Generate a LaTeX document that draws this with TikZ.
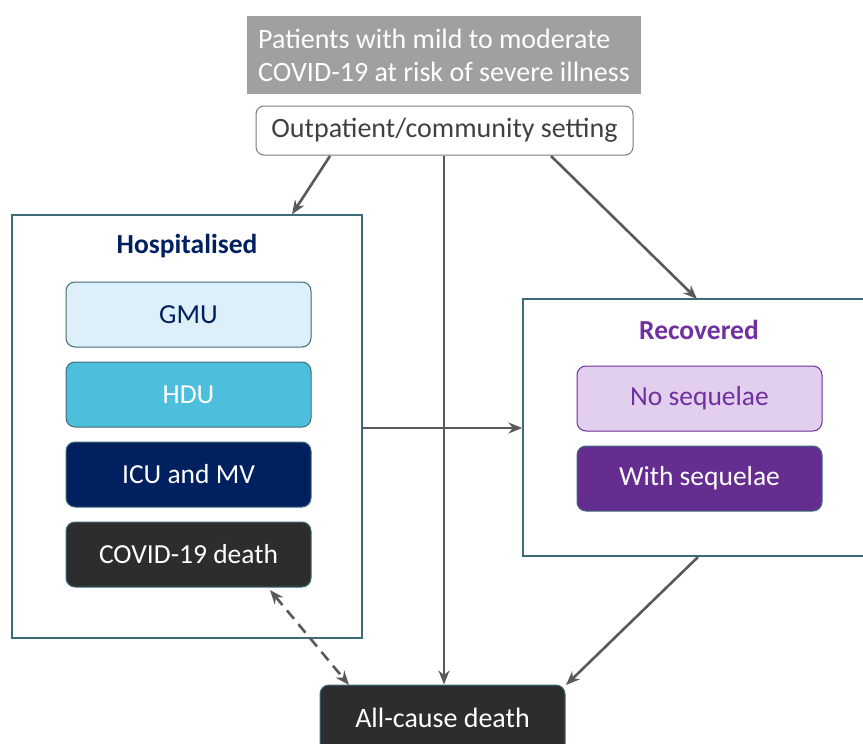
\documentclass[tikz,border=0pt]{standalone}
\usepackage{fontspec}
\setmainfont{Carlito}
\usetikzlibrary{arrows.meta}
\definecolor{edgeteal}{HTML}{3E6B78}
\definecolor{navy}{HTML}{002060}
\definecolor{gmufill}{HTML}{DDEFF8}
\definecolor{hdufill}{HTML}{4EBEDD}
\definecolor{darkbox}{HTML}{2D2D2D}
\definecolor{purp}{HTML}{7030A0}
\definecolor{lilac}{HTML}{E2CFEE}
\definecolor{purpdark}{HTML}{662D91}
\definecolor{arrowgray}{HTML}{595959}
\definecolor{headgray}{HTML}{A0A0A0}
\begin{document}
\begin{tikzpicture}[x=1pt,y=-1pt,
  statebox/.style={draw=edgeteal,line width=1pt,rounded corners=9pt,
    minimum width=245pt,minimum height=65pt,inner sep=0pt,font=\fontsize{27.5}{32}\selectfont},
  group/.style={draw=edgeteal,line width=1.3pt,fill=white},
  flow/.style={draw=arrowgray,line width=2.6pt,-{Stealth[length=14pt,width=11pt]}},
  title/.style={font=\bfseries\fontsize{27.5}{32}\selectfont}]
\useasboundingbox (0,0) rectangle (863,744);

% header and starting setting
\node[fill=headgray,minimum width=394pt,minimum height=78pt,inner sep=0pt] (head) at (444,55) {};
\node[anchor=west,inner sep=0pt,text=white,align=left,font=\fontsize{28}{33}\selectfont]
  (headtext) at (258,55) {Patients with mild to moderate\\COVID-19 at risk of severe illness};
\node[draw=arrowgray!80,line width=1pt,rounded corners=8pt,minimum width=377pt,
  minimum height=49pt,inner sep=0pt,text=black!75,font=\fontsize{28}{32}\selectfont]
  (out) at (444.5,130.5) {Outpatient/community setting};

% hospitalised group
\node[group,minimum width=350pt,minimum height=423pt,inner sep=0pt] (hosp) at (187,426.5) {};
\node[title,text=navy] (htitle) at (187,246) {Hospitalised};
\node[statebox,fill=gmufill,text=navy] (gmu) at (188.5,314.5) {GMU};
\node[statebox,fill=hdufill,text=white] (hdu) at (188.5,394.5) {HDU};
\node[statebox,fill=navy,text=white] (icu) at (188.5,474.5) {ICU and MV};
\node[statebox,fill=darkbox,text=white] (cdeath) at (188.5,554.5) {COVID-19 death};

% recovered group
\node[group,minimum width=350pt,minimum height=257pt,inner sep=0pt] (rec) at (698,427.5) {};
\node[title,text=purp] (rtitle) at (699,330) {Recovered};
\node[statebox,draw=purp,fill=lilac,text=purp] (noseq) at (699.5,398.5) {No sequelae};
\node[statebox,fill=purpdark,text=white] (withseq) at (699.5,478.5) {With sequelae};

% absorbing state
\node[statebox,fill=darkbox,text=white,minimum height=80pt] (adeath) at (442.5,725) {};
\node[text=white,font=\fontsize{28}{32}\selectfont] (alabel) at (442.5,718) {All-cause death};

% transitions
\coordinate (o1) at (330,156);
\coordinate (o2) at (444,156);
\coordinate (o3) at (551,156);
\draw[flow] (o1) -- (hosp.north -| 292,0);
\draw[flow] (o2) -- (o2 |- adeath.north);
\draw[flow] (o3) -- (697,299);
\draw[flow] (hosp.east |- 0,428) -- (rec.west |- 0,428);
\coordinate (rb) at (698,557);
\draw[flow] (rb) -- (566,685);
\draw[draw=arrowgray,line width=2.6pt,dash pattern=on 11pt off 7pt,
  {Stealth[length=14pt,width=11pt]}-{Stealth[length=14pt,width=11pt]}]
  (270,590) -- (349,685);
\end{tikzpicture}
\end{document}
